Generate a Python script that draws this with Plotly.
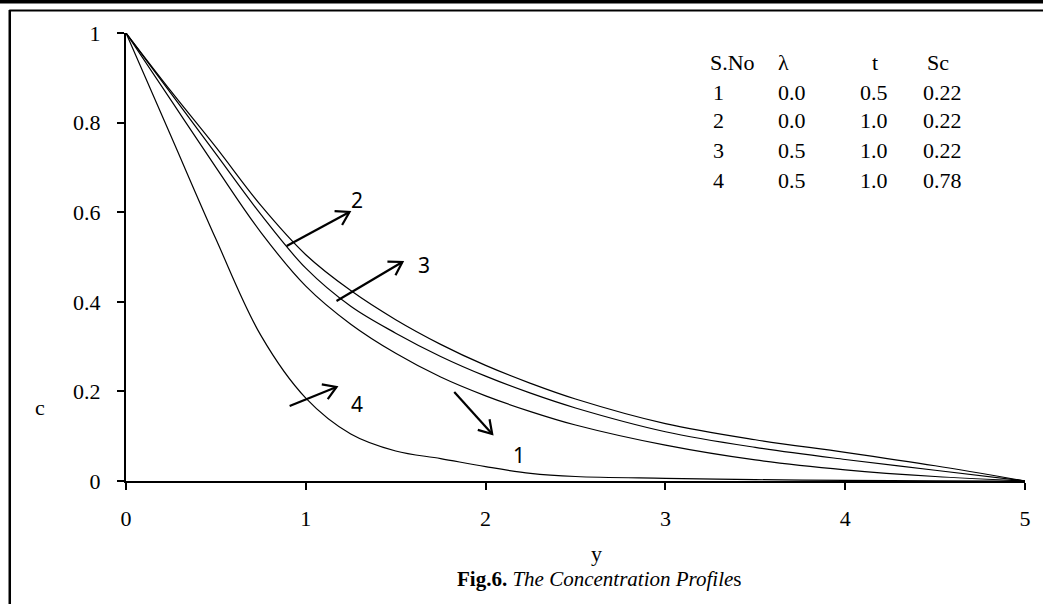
import math
import plotly.graph_objects as go

# ---- data ----
y_pts = [0, 0.25, 0.5, 0.75, 1.0, 1.25, 1.5, 1.75, 2.0, 2.25, 2.5, 3.0, 3.5, 4.0, 4.5, 5.0]
c_curve1 = [1, 0.85, 0.70, 0.555, 0.435, 0.35, 0.285, 0.232, 0.19, 0.155, 0.125, 0.08, 0.047, 0.025, 0.01, 0]
c_curve2 = [1, 0.87, 0.745, 0.615, 0.505, 0.425, 0.36, 0.305, 0.258, 0.218, 0.183, 0.128, 0.092, 0.064, 0.034, 0]
c_curve3 = [1, 0.865, 0.73, 0.595, 0.475, 0.39, 0.33, 0.278, 0.234, 0.196, 0.163, 0.11, 0.075, 0.048, 0.024, 0]
c_curve4 = [1, 0.77, 0.54, 0.325, 0.185, 0.105, 0.067, 0.05, 0.032, 0.017, 0.01, 0.006, 0.003, 0.0015, 0.0005, 0]

x_ticks = [0, 1, 2, 3, 4, 5]
y_ticks = [0, 0.2, 0.4, 0.6, 0.8, 1]
y_tick_labels = ["0", "0.2", "0.4", "0.6", "0.8", "1"]

table_header = ["S.No", "λ", "t", "Sc"]
table_sno = ["1", "2", "3", "4"]
table_lambda = ["0.0", "0.0", "0.5", "0.5"]
table_t = ["0.5", "1.0", "1.0", "1.0"]
table_sc = ["0.22", "0.22", "0.22", "0.78"]

W, H = 1043, 604
L, R, T, B = 126, 1027, 33, 481

def px(xpix):
    return (xpix - L) / (R - L)

def py(ypix):
    return (B - ypix) / (B - T)

fig = go.Figure()
for c in [c_curve1, c_curve2, c_curve3, c_curve4]:
    fig.add_trace(go.Scatter(x=y_pts, y=c, mode="lines",
                             line=dict(color="black", width=1.2, shape="spline", smoothing=1.0),
                             showlegend=False, hoverinfo="skip"))

serif = "Liberation Serif"
sans = "Noto Sans"

def label(xp, yp, text, family, size, anchor="center"):
    return dict(x=px(xp), y=py(yp), xref="paper", yref="paper", text=text,
                showarrow=False, xanchor=anchor, yanchor="middle",
                font=dict(family=family, size=size, color="black"))

annotations = []
# table (left-aligned columns)
col_x = [709, 777, 872, 927]
row_y = [62, 92, 121, 151, 180]
for j, h in enumerate(table_header):
    annotations.append(label(col_x[j], row_y[0], h, serif, 22, "left"))
row_x = [712, 777, 860, 923]
cols = [table_sno, table_lambda, table_t, table_sc]
for j, col in enumerate(cols):
    for i, v in enumerate(col):
        annotations.append(label(row_x[j], row_y[i + 1], v, serif, 22, "left"))

# curve labels
for lab, (lx, ly) in {"2": (358, 200), "3": (425, 265), "4": (358, 404), "1": (520, 455)}.items():
    annotations.append(label(lx, ly, lab, sans, 21))

# axis titles & caption
annotations.append(label(40, 407, "c", serif, 22))
annotations.append(label(598, 553, "y", serif, 22))
annotations.append(label(600, 579, "<b>Fig.6.</b> <i>The Concentration Profile</i>s", serif, 21))

shapes = []
def arrow(x0, y0, x1, y1, head=15, ang=32):
    d = "M %f,%f L %f,%f" % (px(x0), py(y0), px(x1), py(y1))
    shapes.append(dict(type="path", path=d, xref="paper", yref="paper",
                       line=dict(color="black", width=2.2)))
    a = math.atan2(y1 - y0, x1 - x0)
    pts = []
    for s in (1, -1):
        b = a + math.pi - s * math.radians(ang)
        pts.append((x1 + head * math.cos(b), y1 + head * math.sin(b)))
    d2 = "M %f,%f L %f,%f L %f,%f" % (px(pts[0][0]), py(pts[0][1]), px(x1), py(y1),
                                        px(pts[1][0]), py(pts[1][1]))
    shapes.append(dict(type="path", path=d2, xref="paper", yref="paper",
                       line=dict(color="black", width=2.2)))

arrow(287, 246, 350, 212)
arrow(337, 301, 403, 262)
arrow(290, 406, 337, 387)
arrow(455, 392, 493, 434)

# page frame
shapes.append(dict(type="rect", xref="paper", yref="paper", x0=px(-5), x1=px(1050),
                   y0=py(3.5), y1=py(-5), fillcolor="black", line=dict(width=0)))
shapes.append(dict(type="line", xref="paper", yref="paper", x0=px(9), x1=px(1050),
                   y0=py(10.5), y1=py(10.5), line=dict(color="black", width=2)))
shapes.append(dict(type="line", xref="paper", yref="paper", x0=px(9.5), x1=px(9.5),
                   y0=py(10), y1=py(610), line=dict(color="black", width=2.5)))

fig.update_layout(
    width=W, height=H,
    margin=dict(l=L, r=W - R, t=T, b=H - B),
    paper_bgcolor="white", plot_bgcolor="white",
    annotations=annotations, shapes=shapes,
    xaxis=dict(range=[0, 5], tickvals=x_ticks, ticks="outside", ticklen=7, tickwidth=2,
               tickcolor="black", showline=True, linecolor="black", linewidth=2,
               showgrid=False, zeroline=False, ticklabelstandoff=10,
               tickfont=dict(family=serif, size=22, color="black")),
    yaxis=dict(range=[0, 1], tickvals=y_ticks, ticktext=y_tick_labels, ticks="outside",
               ticklen=7, tickwidth=2, tickcolor="black", showline=True, linecolor="black",
               linewidth=2, showgrid=False, zeroline=False, ticklabelstandoff=12,
               tickfont=dict(family=serif, size=22, color="black")),
)

fig.write_html("out.html", config={"displayModeBar": False},
               post_script="document.body.style.margin='0';document.body.style.overflow='hidden';")
